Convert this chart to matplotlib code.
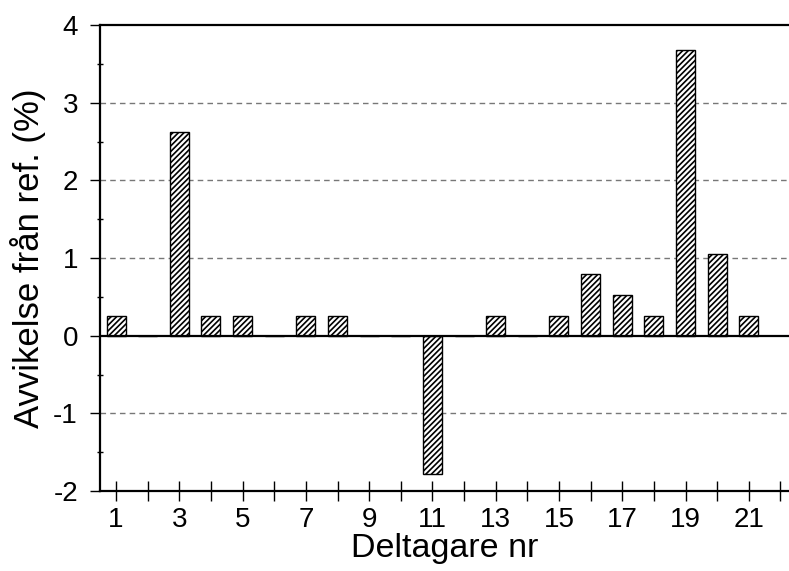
import matplotlib
matplotlib.use("Agg")
import matplotlib.pyplot as plt
from matplotlib.ticker import MultipleLocator

plt.rcParams['font.family'] = ['Liberation Sans', 'DejaVu Sans']
plt.rcParams['hatch.linewidth'] = 1.2
plt.rcParams['axes.unicode_minus'] = False

participants = list(range(1, 22))
deviation = [0.26, 0.0, 2.63, 0.26, 0.26, 0.0, 0.26, 0.26, 0.0, 0.0, -1.78,
             0.0, 0.26, 0.0, 0.26, 0.79, 0.52, 0.26, 3.68, 1.05, 0.26]
xtick_labels = [str(i) if i % 2 == 1 else '' for i in range(1, 23)]

fig = plt.figure(figsize=(7.89, 5.71), dpi=100)
ax = fig.add_axes([0.127, 0.140, 0.873, 0.816])

for y in [-1, 1, 2, 3]:
    ax.axhline(y, color='#777777', lw=1.0, ls=(0, (4, 3)), zorder=0)
ax.axhline(0, color='black', lw=1.6, zorder=3)

ax.bar(participants, deviation, width=0.6, color='white', edgecolor='black',
       linewidth=1.0, hatch='//////', zorder=2)

ax.set_xlim(0.5, 22.27)
ax.set_ylim(-2, 4)
ax.set_xticks(range(1, 23))
ax.set_xticklabels(xtick_labels)
ax.set_yticks(range(-2, 5))
ax.yaxis.set_minor_locator(MultipleLocator(0.5))

ax.spines['right'].set_visible(False)
for s in ['left', 'top', 'bottom']:
    ax.spines[s].set_linewidth(1.6)

ax.tick_params(axis='x', direction='inout', length=15, width=1.0, labelsize=20, pad=4)
ax.tick_params(axis='y', which='major', direction='out', length=7, width=1.0, labelsize=20, pad=9)
ax.tick_params(axis='y', which='minor', direction='inout', length=5, width=1.0)

ax.set_xlabel('Deltagare nr', fontsize=24.5, labelpad=0)
ax.set_ylabel('Avvikelse från ref. (%)', fontsize=25, labelpad=5)

fig.savefig('out.png', dpi=100)
